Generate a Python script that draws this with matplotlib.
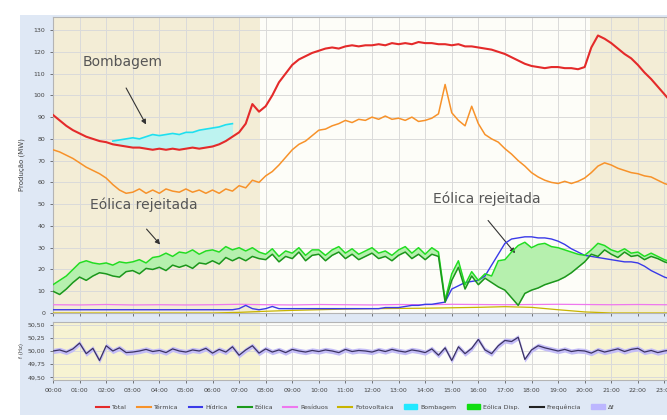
import numpy as np
import matplotlib.pyplot as plt
from matplotlib.patches import Rectangle, Patch
from matplotlib.lines import Line2D

# time axis: 15 min steps from 00:00 to 23:15
t = np.arange(94) * 0.25
t_h = np.arange(25)

total = [91, 88.5, 86, 84, 82.5, 81, 80, 79,
         78.5, 77.5, 77, 76.5, 76, 76, 75.5, 75,
         75.5, 75, 75.5, 75, 75.5, 76, 75.5, 76,
         76.5, 77.5, 79, 81, 83, 87, 96, 92.5,
         95, 100, 106, 110, 114, 116.5, 118, 119.5,
         120.5, 121.5, 122, 121.5, 122.5, 123, 122.5, 123,
         123, 123.5, 123, 124, 123.5, 124, 123.5, 124.5,
         124, 124, 123.5, 123.5, 123, 123.5, 122.5, 122.5,
         122, 121.5, 121, 120, 119, 117.5, 116, 114.5,
         113.5, 113, 112.5, 113, 113, 112.5, 112.5, 112,
         113, 122, 127.5, 126, 124, 121.5, 119, 117,
         114, 110.5, 107.5, 104, 100.5, 97]

termica = [75, 74, 72.5, 71, 69, 67, 65.5, 64,
           62, 59, 56.5, 55, 55.5, 57, 55, 56.5,
           55, 57, 56, 55.5, 57, 55.5, 56.5, 55,
           56.5, 55, 57, 56, 58.5, 57.5, 61, 60,
           63, 65, 68, 71.5, 75, 77.5, 79, 81.5,
           84, 84.5, 86, 87, 88.5, 87.5, 89, 88.5,
           90, 89, 90.5, 89, 89.5, 88.5, 90, 88,
           88.5, 89.5, 91.5, 105, 92, 88.5, 86, 95,
           87, 82, 80, 78.5, 75.5, 73, 70, 67.5,
           64.5, 62.5, 61, 60, 59.5, 60.5, 59.5, 60.5,
           62, 64.5, 67.5, 69, 68, 66.5, 65.5, 64.5,
           64, 63, 62.5, 61, 59.5, 58.5]

hidrica = [1.5] * 28 + [
           2, 3.5, 2, 1.5, 2, 3, 2, 2,
           2, 2, 2, 2, 2, 2, 2, 2,
           2, 2, 2, 2, 2, 2, 2.5, 2.5,
           2.5, 3, 3.5, 3.5, 4, 4, 4.5, 5,
           11, 12.5, 14, 14.5, 15, 17, 22, 27,
           32, 34, 34.5, 35, 35, 34.5, 34.5, 34,
           33, 31.5, 29.5, 28, 26.5, 26, 25.5, 25,
           24.5, 24, 23.5, 23.5, 23, 21.5, 19.5, 18,
           16.5, 15.5]

eolica = [10, 8.5, 11, 14, 16.5, 15, 17, 18.5,
          18, 17, 16.5, 19, 19.5, 18, 20.5, 20,
          21, 19.5, 22, 21, 22, 20.5, 23, 22.5,
          24, 22.5, 25.5, 24, 25.5, 24, 26, 25,
          24.5, 27, 23.5, 26, 25, 28, 24, 26.5,
          27, 24, 26.5, 28, 25, 27, 24.5, 26,
          27.5, 25, 26, 24, 26.5, 28, 25, 27,
          24.5, 27, 26, 5, 15, 21, 11, 17,
          13, 16, 14, 12, 10.5, 7, 3.5, 9,
          10.5, 11.5, 13, 14, 15, 16.5, 18.5, 21,
          23.5, 27, 26, 29, 27, 25.5, 28, 26,
          26.5, 24.5, 26, 25, 23.5, 22.5]

eolica_disp = [13, 15, 17, 20, 23, 24, 23, 22.5,
               23, 22, 23.5, 23, 23.5, 24.5, 23, 25.5,
               26, 27.5, 26, 28, 27.5, 29, 27, 28.5,
               29, 28, 30.5, 29, 30, 28.5, 30, 28,
               27, 29.5, 26, 28.5, 27.5, 30, 26.5, 29,
               29, 26.5, 29, 30.5, 27.5, 29.5, 27, 28.5,
               30, 27.5, 28.5, 26.5, 29, 30.5, 27.5, 30,
               27, 30, 28, 6, 18, 24, 13, 19,
               15, 18, 17, 24, 24.5, 28, 31, 32.5,
               30, 31.5, 32, 30.5, 30, 29, 28, 27,
               26.5, 29, 32, 31, 29, 28, 29.5, 27.5,
               28, 26, 27.5, 26, 24.5, 23.5]

residuos = [3.8, 3.7, 3.9, 3.7, 3.8, 3.7, 3.8, 4.0, 3.8, 3.7, 3.9, 3.8, 3.7,
            3.9, 3.8, 4.0, 3.9, 3.8, 3.9, 4.0, 3.9, 3.8, 3.9, 3.8, 3.8]
fotovoltaica = [0, 0, 0, 0, 0, 0, 0, 0.3, 0.8, 1.2, 1.5, 1.8, 2.0,
                2.1, 2.2, 2.4, 2.6, 2.9, 2.6, 1.5, 0.5, 0, 0, 0, 0]

# pumping shown on top of the total, 02:15 .. 06:45
t_bomb = t[9:28]
bombagem = [79, 79.5, 80, 80.5, 80, 81, 82, 81.5, 82, 82.5,
            82, 83, 83, 84, 84.5, 85, 85.5, 86.5, 87]

frequencia = [50.00, 50.02, 49.98, 50.04, 50.15, 49.95, 50.05, 49.82,
              50.10, 50.00, 50.06, 49.97, 49.98, 50.00, 50.03, 49.99,
              50.01, 49.97, 50.04, 50.00, 49.98, 50.02, 50.00, 50.05,
              49.96, 50.03, 49.98, 50.08, 49.92, 50.02, 50.10, 49.96,
              50.04, 49.98, 50.02, 49.97, 50.03, 50.00, 49.98, 50.01,
              49.99, 50.02, 50.00, 49.97, 50.03, 49.99, 50.01, 50.00,
              49.98, 50.02, 49.99, 50.03, 50.00, 49.98, 50.02, 50.00,
              49.97, 50.04, 49.92, 50.06, 49.82, 50.08, 49.95, 50.05,
              50.22, 50.02, 49.95, 50.10, 50.20, 50.18, 50.26, 49.84,
              50.02, 50.10, 50.06, 50.03, 50.00, 50.03, 49.99, 50.01,
              50.00, 49.96, 50.02, 49.98, 50.01, 50.04, 49.99, 50.03,
              50.05, 49.98, 50.01, 49.97, 50.00, 50.02]
delta_f = 0.05

hour_labels = ["%02d:00" % h for h in range(25)]

beige = "#f3edd6"
beige2 = "#f7f3d2"
grid_c = "#dadada"
txt_c = "#444444"

fig = plt.figure(figsize=(6.67, 4.2), dpi=100)
fig.patches.append(Rectangle((20 / 667, 5 / 420), 1, 400 / 420, transform=fig.transFigure,
                             facecolor="#dfe8f5", edgecolor="none", zorder=-5))

ax = fig.add_axes([53 / 667, 107 / 420, 638 / 667, 296 / 420])
ax2 = fig.add_axes([53 / 667, 40 / 420, 638 / 667, 58 / 420], sharex=ax)

for a, bc in [(ax, beige), (ax2, beige2)]:
    a.set_facecolor("#fdfdf8")
    a.axvspan(0, 7.8, color=bc, zorder=0, lw=0)
    a.axvspan(20.2, 24, color=bc, zorder=0, lw=0)
    a.set_axisbelow(True)
    a.grid(True, color=grid_c, lw=0.7)
    for s in a.spines.values():
        s.set_color("#b4b4b4")
        s.set_linewidth(0.8)
    a.tick_params(labelsize=4.5, colors=txt_c, length=2, width=0.5)

# main panel
ax.fill_between(t_bomb, total[9:28], bombagem, color="#bdf3f0", lw=0, zorder=2)
ax.fill_between(t, eolica, eolica_disp, color="#b6f0ae", lw=0, zorder=2)
ax.plot(t_h, residuos, color="#ee77ee", lw=0.9, zorder=3)
ax.plot(t_h, fotovoltaica, color="#c8b400", lw=0.9, zorder=3)
ax.plot(t, hidrica, color="#3a3ae8", lw=1.0, zorder=4)
ax.plot(t, eolica_disp, color="#22dd22", lw=1.1, zorder=4)
ax.plot(t, eolica, color="#1c961c", lw=1.1, zorder=4)
ax.plot(t, termica, color="#f7922a", lw=1.1, zorder=4)
ax.plot(t_bomb, bombagem, color="#1ee0f0", lw=1.2, zorder=4)
ax.plot(t, total, color="#e42a2a", lw=1.5, zorder=5)

ax.set_xlim(0, 24)
ax.set_ylim(0, 136)
ax.set_yticks(np.arange(0, 131, 10))
ax.set_xticks(np.arange(25))
ax.tick_params(labelbottom=False)

ann = dict(arrowstyle="-|>", color="#333333", lw=0.8, mutation_scale=7)
ax.annotate("", xy=(3.55, 85.5), xytext=(2.7, 104.5), arrowprops=ann)
ax.text(1.1, 115.3, "Bombagem", fontsize=10, color="#555555", va="center")
ax.annotate("", xy=(4.1, 30.5), xytext=(3.45, 39.5), arrowprops=ann)
ax.text(1.4, 49.6, "Eólica rejeitada", fontsize=10, color="#555555", va="center")
ax.annotate("", xy=(17.45, 26.5), xytext=(16.3, 43.5), arrowprops=ann)
ax.text(14.3, 52.4, "Eólica rejeitada", fontsize=10, color="#555555", va="center")

# frequency panel
f = np.array(frequencia)
ax2.fill_between(t, f - delta_f, f + delta_f, color="#c4bdf7", lw=0, zorder=2)
ax2.plot(t, f, color="#3b3363", lw=0.9, zorder=3)
ax2.set_ylim(49.45, 50.55)
ax2.set_yticks([49.5, 49.75, 50.0, 50.25, 50.5])
ax2.set_yticklabels(["49,50", "49,75", "50,00", "50,25", "50,50"])
ax2.set_xticks(np.arange(25))
ax2.set_xticklabels(hour_labels)

fig.text(22 / 667, 1 - 165 / 420, "Produção (MW)", rotation=90, fontsize=5,
         color=txt_c, ha="center", va="center")
fig.text(22 / 667, 1 - 351 / 420, "f (Hz)", rotation=90, fontsize=4,
         color=txt_c, ha="center", va="center")

handles = [Line2D([], [], color="#e42a2a", lw=1.5),
           Line2D([], [], color="#f7922a", lw=1.5),
           Line2D([], [], color="#3a3ae8", lw=1.5),
           Line2D([], [], color="#1c9a1c", lw=1.5),
           Line2D([], [], color="#ee77ee", lw=1.5),
           Line2D([], [], color="#c8b400", lw=1.5),
           Patch(color="#22e8ff"),
           Patch(color="#11dd11"),
           Line2D([], [], color="#222222", lw=1.5),
           Patch(color="#bcb6ff")]
labels = ["Total", "Térmica", "Hídrica", "Eólica", "Resíduos", "Fotovoltaica",
          "Bombagem", "Eólica Disp.", "Frequência", "Δf"]
fig.legend(handles, labels, loc="center", bbox_to_anchor=(355 / 667, 13 / 420),
           ncol=10, fontsize=4.5, frameon=False, handlelength=2.2, handleheight=0.9,
           handletextpad=0.5, columnspacing=1.6, labelcolor=txt_c)

fig.savefig("out.png", dpi=100)
